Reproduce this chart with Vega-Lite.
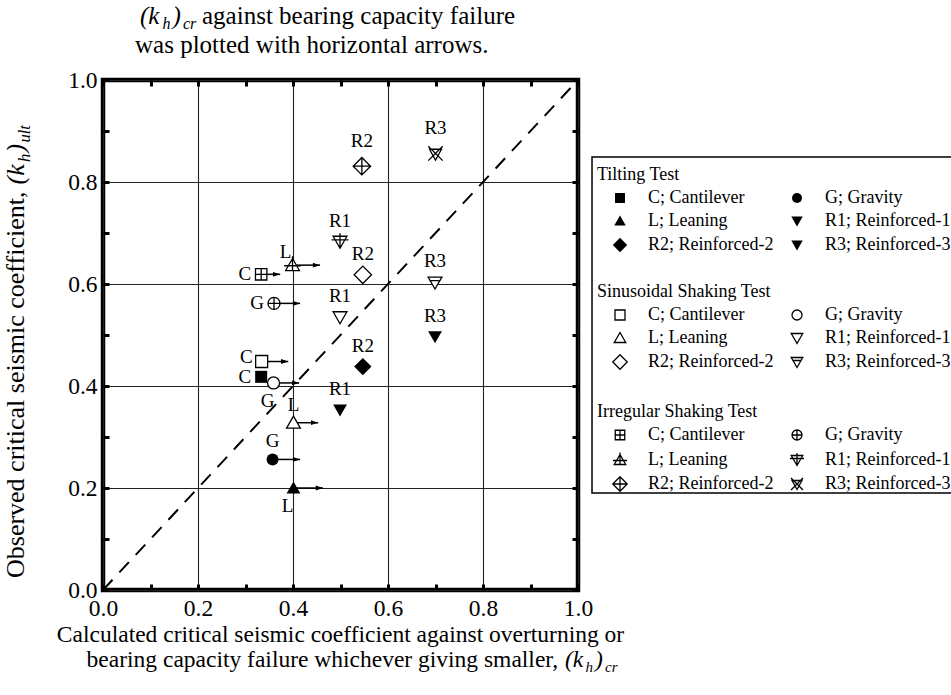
{
  "$schema": "https://vega.github.io/schema/vega-lite/v6.json",
  "width": 475,
  "height": 510,
  "autosize": {"type": "none"},
  "padding": {"left": 103, "top": 80, "right": 373, "bottom": 105},
  "background": "white",
  "config": {
    "font": "Liberation Serif",
    "view": {"stroke": "black", "strokeWidth": 4.5},
    "text": {"font": "Liberation Serif", "color": "black"},
    "legend": {
      "titleFont": "Liberation Serif",
      "titleFontSize": 18,
      "titleFontWeight": "normal",
      "titleColor": "black",
      "labelFont": "Liberation Serif",
      "labelFontSize": 18,
      "labelColor": "black",
      "symbolSize": 100,
      "symbolOffset": 14,
      "labelOffset": 19,
      "rowPadding": 5,
      "columnPadding": -6,
      "titlePadding": 5,
      "padding": 0,
      "labelLimit": 300,
      "titleLimit": 400,
      "symbolStrokeWidth": 1.3,
      "direction": "horizontal"
    }
  },
  "datasets": {
    "points": [
      {"test": "Tilting Test", "type": "C; Cantilever", "code": "C", "x": 0.333, "y": 0.418},
      {"test": "Tilting Test", "type": "G; Gravity", "code": "G", "x": 0.357, "y": 0.256},
      {"test": "Tilting Test", "type": "L; Leaning", "code": "L", "x": 0.401, "y": 0.2},
      {"test": "Tilting Test", "type": "R1; Reinforced-1", "code": "R1", "x": 0.499, "y": 0.353},
      {"test": "Tilting Test", "type": "R2; Reinforced-2", "code": "R2", "x": 0.547, "y": 0.438},
      {"test": "Tilting Test", "type": "R3; Reinforced-3", "code": "R3", "x": 0.699, "y": 0.497},
      {"test": "Sinusoidal Shaking Test", "type": "C; Cantilever", "code": "C", "x": 0.334, "y": 0.448},
      {"test": "Sinusoidal Shaking Test", "type": "G; Gravity", "code": "G", "x": 0.359, "y": 0.406},
      {"test": "Sinusoidal Shaking Test", "type": "L; Leaning", "code": "L", "x": 0.401, "y": 0.328},
      {"test": "Sinusoidal Shaking Test", "type": "R1; Reinforced-1", "code": "R1", "x": 0.499, "y": 0.535},
      {"test": "Sinusoidal Shaking Test", "type": "R2; Reinforced-2", "code": "R2", "x": 0.547, "y": 0.618},
      {"test": "Sinusoidal Shaking Test", "type": "R3; Reinforced-3", "code": "R3", "x": 0.699, "y": 0.603},
      {"test": "Irregular Shaking Test", "type": "C; Cantilever", "code": "C", "x": 0.333, "y": 0.619},
      {"test": "Irregular Shaking Test", "type": "G; Gravity", "code": "G", "x": 0.36, "y": 0.562},
      {"test": "Irregular Shaking Test", "type": "L; Leaning", "code": "L", "x": 0.399, "y": 0.637},
      {"test": "Irregular Shaking Test", "type": "R1; Reinforced-1", "code": "R1", "x": 0.499, "y": 0.683},
      {"test": "Irregular Shaking Test", "type": "R2; Reinforced-2", "code": "R2", "x": 0.545, "y": 0.831},
      {"test": "Irregular Shaking Test", "type": "R3; Reinforced-3", "code": "R3", "x": 0.7, "y": 0.856}
    ],
    "arrows": [
      {"x": 0.333, "x2": 0.373, "y": 0.619},
      {"x": 0.399, "x2": 0.457, "y": 0.637},
      {"x": 0.36, "x2": 0.415, "y": 0.562},
      {"x": 0.334, "x2": 0.39, "y": 0.448},
      {"x": 0.359, "x2": 0.413, "y": 0.406},
      {"x": 0.401, "x2": 0.453, "y": 0.328},
      {"x": 0.357, "x2": 0.415, "y": 0.256},
      {"x": 0.401, "x2": 0.463, "y": 0.2}
    ],
    "diagonal": [
      {"x": 0, "y": 0},
      {"x": 1, "y": 1}
    ]
  },
  "data": {"name": "points"},
  "layer": [
    {
      "data": {"name": "diagonal"},
      "mark": {"type": "line", "color": "black", "strokeWidth": 2, "strokeDash": [14, 10]},
      "encoding": {
        "x": {"field": "x", "type": "quantitative", "scale": {"domain": [0, 1], "nice": false},
          "axis": {"orient": "top", "values": [0, 0.1, 0.2, 0.3, 0.4, 0.5, 0.6, 0.7, 0.8, 0.9, 1],
            "labels": false, "grid": false, "domain": false, "ticks": true, "tickSize": -6, "tickWidth": 3, "tickColor": "black", "title": null}},
        "y": {"field": "y", "type": "quantitative", "scale": {"domain": [0, 1], "nice": false},
          "axis": {"orient": "right", "values": [0, 0.1, 0.2, 0.3, 0.4, 0.5, 0.6, 0.7, 0.8, 0.9, 1],
            "labels": false, "grid": false, "domain": false, "ticks": true, "tickSize": -6, "tickWidth": 3, "tickColor": "black", "title": null}}
      }
    },
    {
      "data": {"name": "arrows"},
      "mark": {"type": "rule", "color": "black", "strokeWidth": 1.5},
      "encoding": {
        "x": {"field": "x", "type": "quantitative", "scale": {"domain": [0, 1], "nice": false}, "axis": null},
        "x2": {"field": "x2"},
        "y": {"field": "y", "type": "quantitative", "scale": {"domain": [0, 1], "nice": false}, "axis": null}
      }
    },
    {
      "data": {"name": "arrows"},
      "mark": {"type": "point", "shape": "M0,0L-2.4,-0.8L-2.4,0.8Z", "filled": true, "color": "black", "size": 36, "opacity": 1},
      "encoding": {
        "x": {"field": "x2", "type": "quantitative", "scale": {"domain": [0, 1], "nice": false}, "axis": null},
        "y": {"field": "y", "type": "quantitative", "scale": {"domain": [0, 1], "nice": false}, "axis": null}
      }
    },
    {
      "transform": [{"filter": "datum.test == 'Tilting Test'"}],
      "mark": {"type": "point", "filled": true, "color": "black", "size": 144, "opacity": 1},
      "encoding": {
        "x": {"field": "x", "type": "quantitative", "scale": {"domain": [0, 1], "nice": false},
          "axis": {"orient": "bottom", "values": [0, 0.1, 0.2, 0.3, 0.4, 0.5, 0.6, 0.7, 0.8, 0.9, 1],
            "labelExpr": "round(datum.value * 10) % 2 == 0 ? format(datum.value, '.1f') : ''",
            "grid": true, "gridColor": "#222", "gridWidth": 1.1,
            "gridOpacity": {"condition": {"test": "round(datum.value * 10) % 2 == 1", "value": 0}, "value": 1},
            "domain": false, "ticks": true, "tickSize": -6, "tickWidth": 3, "tickColor": "black",
            "labelFont": "Liberation Serif", "labelFontSize": 23.5, "labelColor": "black", "labelPadding": 12,
            "labelFlush": false, "labelOverlap": false, "title": null}},
        "y": {"field": "y", "type": "quantitative", "scale": {"domain": [0, 1], "nice": false},
          "axis": {"orient": "left", "values": [0, 0.1, 0.2, 0.3, 0.4, 0.5, 0.6, 0.7, 0.8, 0.9, 1],
            "labelExpr": "round(datum.value * 10) % 2 == 0 ? format(datum.value, '.1f') : ''",
            "grid": true, "gridColor": "#222", "gridWidth": 1.1,
            "gridOpacity": {"condition": {"test": "round(datum.value * 10) % 2 == 1", "value": 0}, "value": 1},
            "domain": false, "ticks": true, "tickSize": -6, "tickWidth": 3, "tickColor": "black",
            "labelFont": "Liberation Serif", "labelFontSize": 23.5, "labelColor": "black", "labelPadding": 12,
            "labelFlush": false, "labelOverlap": false, "title": null}},
        "shape": {"field": "type", "type": "nominal",
          "scale": {
            "domain": ["C; Cantilever", "G; Gravity", "L; Leaning", "R1; Reinforced-1", "R2; Reinforced-2", "R3; Reinforced-3"],
            "range": ["square", "circle", "M0,-1.1L1.15,0.9L-1.15,0.9Z", "M-1.15,-0.9L1.15,-0.9L0,1.1Z", "M0,-1.45L1.45,0L0,1.45L-1.45,0Z", "M-1.15,-0.9L1.15,-0.9L0,1.1Z"]
          },
          "legend": {"title": "Tilting Test", "orient": "none", "legendX": 494, "legendY": 86, "columns": 2, "direction": "horizontal"}}
      }
    },
    {
      "transform": [{"filter": "datum.test == 'Sinusoidal Shaking Test'"}],
      "mark": {"type": "point", "filled": true, "color": "white", "size": 144, "opacity": 1},
      "encoding": {
        "x": {"field": "x", "type": "quantitative", "scale": {"domain": [0, 1], "nice": false}, "axis": null},
        "y": {"field": "y", "type": "quantitative", "scale": {"domain": [0, 1], "nice": false}, "axis": null},
        "shape": {"field": "type", "type": "nominal",
          "scale": {
            "domain": ["C; Cantilever", "G; Gravity", "L; Leaning", "R1; Reinforced-1", "R2; Reinforced-2", "R3; Reinforced-3"],
            "range": ["square", "circle", "M0,-1.1L1.15,0.9L-1.15,0.9Z", "M-1.15,-0.9L1.15,-0.9L0,1.1Z", "M0,-1.45L1.45,0L0,1.45L-1.45,0Z", "M-1.15,-0.9L1.15,-0.9L0,1.1Z"]
          },
          "legend": null}
      }
    },
    {
      "transform": [{"filter": "datum.test == 'Irregular Shaking Test'"}],
      "mark": {"type": "point", "filled": true, "color": "white", "size": 144, "opacity": 1},
      "encoding": {
        "x": {"field": "x", "type": "quantitative", "scale": {"domain": [0, 1], "nice": false}, "axis": null},
        "y": {"field": "y", "type": "quantitative", "scale": {"domain": [0, 1], "nice": false}, "axis": null},
        "shape": {"field": "type", "type": "nominal",
          "scale": {
            "domain": ["C; Cantilever", "G; Gravity", "L; Leaning", "R1; Reinforced-1", "R2; Reinforced-2", "R3; Reinforced-3"],
            "range": ["square", "circle", "M0,-1.1L1.15,0.9L-1.15,0.9Z", "M-1.15,-0.9L1.15,-0.9L0,1.1Z", "M0,-1.45L1.45,0L0,1.45L-1.45,0Z", "M-1,-0.7L1,-0.7L0,1.1Z"]
          },
          "legend": null}
      }
    },
    {
      "transform": [{"filter": "datum.test == 'Sinusoidal Shaking Test'"}],
      "mark": {"type": "point", "filled": false, "color": "black", "strokeWidth": 1.3, "size": 144, "opacity": 1},
      "encoding": {
        "x": {"field": "x", "type": "quantitative", "scale": {"domain": [0, 1], "nice": false}, "axis": null},
        "y": {"field": "y", "type": "quantitative", "scale": {"domain": [0, 1], "nice": false}, "axis": null},
        "shape": {"field": "type", "type": "nominal",
          "scale": {
            "domain": ["C; Cantilever", "G; Gravity", "L; Leaning", "R1; Reinforced-1", "R2; Reinforced-2", "R3; Reinforced-3"],
            "range": ["square", "circle", "M0,-1.1L1.15,0.9L-1.15,0.9Z", "M-1.15,-0.9L1.15,-0.9L0,1.1Z", "M0,-1.45L1.45,0L0,1.45L-1.45,0Z", "M-1.15,-0.9L1.15,-0.9L0,1.1Z M-0.8,-0.3H0.8"]
          },
          "legend": {"title": "Sinusoidal Shaking Test", "orient": "none", "legendX": 494, "legendY": 203, "columns": 2, "direction": "horizontal"}}
      }
    },
    {
      "transform": [{"filter": "datum.test == 'Irregular Shaking Test'"}],
      "mark": {"type": "point", "filled": false, "color": "black", "strokeWidth": 1.3, "size": 144, "opacity": 1},
      "encoding": {
        "x": {"field": "x", "type": "quantitative", "scale": {"domain": [0, 1], "nice": false}, "axis": null},
        "y": {"field": "y", "type": "quantitative", "scale": {"domain": [0, 1], "nice": false}, "axis": null},
        "shape": {"field": "type", "type": "nominal",
          "scale": {
            "domain": ["C; Cantilever", "G; Gravity", "L; Leaning", "R1; Reinforced-1", "R2; Reinforced-2", "R3; Reinforced-3"],
            "range": [
              "M-0.95,-0.95H0.95V0.95H-0.95Z M0,-0.95V0.95 M-0.95,0H0.95",
              "M-1,0A1,1,0,1,1,1,0A1,1,0,1,1,-1,0Z M0,-1V1 M-1,0H1",
              "M0,-1.1L1.15,0.9L-1.15,0.9Z M0,-1.5V0.9 M-1.4,0.1H1.4",
              "M-1.15,-0.9L1.15,-0.9L0,1.1Z M0,-1.4V1.1 M-1.4,-0.3H1.4",
              "M0,-1.45L1.45,0L0,1.45L-1.45,0Z M0,-1.45V1.45 M-1.45,0H1.45",
              "M-1.2,-1.2L1.2,1.2 M1.2,-1.2L-1.2,1.2 M-1,-0.7L1,-0.7L0,1.1Z"
            ]
          },
          "legend": {"title": "Irregular Shaking Test", "orient": "none", "legendX": 494, "legendY": 323, "columns": 2, "direction": "horizontal"}}
      }
    },
    {
      "transform": [{"filter": "(datum.code == 'C' && datum.test != 'Sinusoidal Shaking Test') || (datum.code == 'G' && datum.test == 'Irregular Shaking Test')"}],
      "mark": {"type": "text", "fontSize": 19, "align": "right", "baseline": "middle", "dx": -10},
      "encoding": {
        "x": {"field": "x", "type": "quantitative", "scale": {"domain": [0, 1], "nice": false}, "axis": null},
        "y": {"field": "y", "type": "quantitative", "scale": {"domain": [0, 1], "nice": false}, "axis": null},
        "text": {"field": "code"}
      }
    },
    {
      "transform": [{"filter": "datum.code == 'C' && datum.test == 'Sinusoidal Shaking Test'"}],
      "mark": {"type": "text", "fontSize": 19, "align": "right", "baseline": "middle", "dx": -9, "dy": -5},
      "encoding": {
        "x": {"field": "x", "type": "quantitative", "scale": {"domain": [0, 1], "nice": false}, "axis": null},
        "y": {"field": "y", "type": "quantitative", "scale": {"domain": [0, 1], "nice": false}, "axis": null},
        "text": {"field": "code"}
      }
    },
    {
      "transform": [{"filter": "(indexof(['R1', 'R2', 'R3'], datum.code) >= 0 && datum.test != 'Irregular Shaking Test') || (datum.code == 'R1' && datum.test == 'Irregular Shaking Test')"}],
      "mark": {"type": "text", "fontSize": 19, "align": "center", "baseline": "middle", "dy": -21},
      "encoding": {
        "x": {"field": "x", "type": "quantitative", "scale": {"domain": [0, 1], "nice": false}, "axis": null},
        "y": {"field": "y", "type": "quantitative", "scale": {"domain": [0, 1], "nice": false}, "axis": null},
        "text": {"field": "code"}
      }
    },
    {
      "transform": [{"filter": "(datum.code == 'R2' || datum.code == 'R3') && datum.test == 'Irregular Shaking Test'"}],
      "mark": {"type": "text", "fontSize": 19, "align": "center", "baseline": "middle", "dy": -25},
      "encoding": {
        "x": {"field": "x", "type": "quantitative", "scale": {"domain": [0, 1], "nice": false}, "axis": null},
        "y": {"field": "y", "type": "quantitative", "scale": {"domain": [0, 1], "nice": false}, "axis": null},
        "text": {"field": "code"}
      }
    },
    {
      "transform": [{"filter": "(datum.code == 'G' && datum.test == 'Tilting Test') || (datum.code == 'L' && datum.test == 'Sinusoidal Shaking Test')"}],
      "mark": {"type": "text", "fontSize": 19, "align": "center", "baseline": "middle", "dy": -18},
      "encoding": {
        "x": {"field": "x", "type": "quantitative", "scale": {"domain": [0, 1], "nice": false}, "axis": null},
        "y": {"field": "y", "type": "quantitative", "scale": {"domain": [0, 1], "nice": false}, "axis": null},
        "text": {"field": "code"}
      }
    },
    {
      "transform": [{"filter": "datum.code == 'L' && datum.test == 'Irregular Shaking Test'"}],
      "mark": {"type": "text", "fontSize": 19, "align": "center", "baseline": "middle", "dx": -7, "dy": -13},
      "encoding": {
        "x": {"field": "x", "type": "quantitative", "scale": {"domain": [0, 1], "nice": false}, "axis": null},
        "y": {"field": "y", "type": "quantitative", "scale": {"domain": [0, 1], "nice": false}, "axis": null},
        "text": {"field": "code"}
      }
    },
    {
      "transform": [{"filter": "(datum.code == 'L' && datum.test == 'Tilting Test') || (datum.code == 'G' && datum.test == 'Sinusoidal Shaking Test')"}],
      "mark": {"type": "text", "fontSize": 19, "align": "center", "baseline": "middle", "dx": -6, "dy": 18},
      "encoding": {
        "x": {"field": "x", "type": "quantitative", "scale": {"domain": [0, 1], "nice": false}, "axis": null},
        "y": {"field": "y", "type": "quantitative", "scale": {"domain": [0, 1], "nice": false}, "axis": null},
        "text": {"field": "code"}
      }
    },
    {
      "data": {"values": [{}]},
      "mark": {"type": "rect", "fillOpacity": 0, "stroke": "black", "strokeWidth": 1.5},
      "encoding": {
        "x": {"datum": 1.0295, "scale": {"domain": [0, 1], "nice": false}, "axis": null},
        "x2": {"datum": 1.9},
        "y": {"datum": 0.849, "scale": {"domain": [0, 1], "nice": false}, "axis": null},
        "y2": {"datum": 0.19}
      }
    },
    {
      "data": {"values": [{}]},
      "mark": {"type": "text", "text": "(k", "fontSize": 25, "fontStyle": "italic", "align": "left", "baseline": "alphabetic", "dx": 5},
      "encoding": {
        "x": {"datum": 0.0674, "scale": {"domain": [0, 1], "nice": false}, "axis": null},
        "y": {"datum": 1.1098, "scale": {"domain": [0, 1], "nice": false}, "axis": null}
      }
    },
    {
      "data": {"values": [{}]},
      "mark": {"type": "text", "text": "h", "fontSize": 16, "fontStyle": "italic", "align": "left", "baseline": "alphabetic", "dx": 27.5, "dy": 5},
      "encoding": {
        "x": {"datum": 0.0674, "scale": {"domain": [0, 1], "nice": false}, "axis": null},
        "y": {"datum": 1.1098, "scale": {"domain": [0, 1], "nice": false}, "axis": null}
      }
    },
    {
      "data": {"values": [{}]},
      "mark": {"type": "text", "text": ")", "fontSize": 25, "fontStyle": "italic", "align": "left", "baseline": "alphabetic", "dx": 37.5},
      "encoding": {
        "x": {"datum": 0.0674, "scale": {"domain": [0, 1], "nice": false}, "axis": null},
        "y": {"datum": 1.1098, "scale": {"domain": [0, 1], "nice": false}, "axis": null}
      }
    },
    {
      "data": {"values": [{}]},
      "mark": {"type": "text", "text": "cr", "fontSize": 16, "fontStyle": "italic", "align": "left", "baseline": "alphabetic", "dx": 48, "dy": 5},
      "encoding": {
        "x": {"datum": 0.0674, "scale": {"domain": [0, 1], "nice": false}, "axis": null},
        "y": {"datum": 1.1098, "scale": {"domain": [0, 1], "nice": false}, "axis": null}
      }
    },
    {
      "data": {"values": [{}]},
      "mark": {"type": "text", "text": "against bearing capacity failure", "fontSize": 25, "align": "left", "baseline": "alphabetic", "dx": 67},
      "encoding": {
        "x": {"datum": 0.0674, "scale": {"domain": [0, 1], "nice": false}, "axis": null},
        "y": {"datum": 1.1098, "scale": {"domain": [0, 1], "nice": false}, "axis": null}
      }
    },
    {
      "data": {"values": [{}]},
      "mark": {"type": "text", "text": "was plotted with horizontal arrows.", "fontSize": 25, "align": "left", "baseline": "alphabetic"},
      "encoding": {
        "x": {"datum": 0.0674, "scale": {"domain": [0, 1], "nice": false}, "axis": null},
        "y": {"datum": 1.0529, "scale": {"domain": [0, 1], "nice": false}, "axis": null}
      }
    },
    {
      "data": {"values": [{}]},
      "mark": {"type": "text", "text": "Calculated critical seismic coefficient against overturning or", "fontSize": 23.5, "align": "center", "baseline": "alphabetic"},
      "encoding": {
        "x": {"datum": 0.5, "scale": {"domain": [0, 1], "nice": false}, "axis": null},
        "y": {"datum": -0.102, "scale": {"domain": [0, 1], "nice": false}, "axis": null}
      }
    },
    {
      "data": {"values": [{}]},
      "mark": {"type": "text", "text": "bearing capacity failure whichever giving smaller,", "fontSize": 23.5, "align": "left", "baseline": "alphabetic"},
      "encoding": {
        "x": {"datum": -0.0345, "scale": {"domain": [0, 1], "nice": false}, "axis": null},
        "y": {"datum": -0.151, "scale": {"domain": [0, 1], "nice": false}, "axis": null}
      }
    },
    {
      "data": {"values": [{}]},
      "mark": {"type": "text", "text": "(k", "fontSize": 23.5, "fontStyle": "italic", "align": "left", "baseline": "alphabetic", "dx": 478.4},
      "encoding": {
        "x": {"datum": -0.0345, "scale": {"domain": [0, 1], "nice": false}, "axis": null},
        "y": {"datum": -0.151, "scale": {"domain": [0, 1], "nice": false}, "axis": null}
      }
    },
    {
      "data": {"values": [{}]},
      "mark": {"type": "text", "text": "h", "fontSize": 15, "fontStyle": "italic", "align": "left", "baseline": "alphabetic", "dx": 499, "dy": 5},
      "encoding": {
        "x": {"datum": -0.0345, "scale": {"domain": [0, 1], "nice": false}, "axis": null},
        "y": {"datum": -0.151, "scale": {"domain": [0, 1], "nice": false}, "axis": null}
      }
    },
    {
      "data": {"values": [{}]},
      "mark": {"type": "text", "text": ")", "fontSize": 23.5, "fontStyle": "italic", "align": "left", "baseline": "alphabetic", "dx": 508.5},
      "encoding": {
        "x": {"datum": -0.0345, "scale": {"domain": [0, 1], "nice": false}, "axis": null},
        "y": {"datum": -0.151, "scale": {"domain": [0, 1], "nice": false}, "axis": null}
      }
    },
    {
      "data": {"values": [{}]},
      "mark": {"type": "text", "text": "cr", "fontSize": 15, "fontStyle": "italic", "align": "left", "baseline": "alphabetic", "dx": 518.5, "dy": 5},
      "encoding": {
        "x": {"datum": -0.0345, "scale": {"domain": [0, 1], "nice": false}, "axis": null},
        "y": {"datum": -0.151, "scale": {"domain": [0, 1], "nice": false}, "axis": null}
      }
    },
    {
      "data": {"values": [{}]},
      "mark": {"type": "text", "text": "Observed critical seismic coefficient,", "fontSize": 26, "angle": 270, "align": "left", "baseline": "alphabetic"},
      "encoding": {
        "x": {"datum": -0.1663, "scale": {"domain": [0, 1], "nice": false}, "axis": null},
        "y": {"datum": 0.0235, "scale": {"domain": [0, 1], "nice": false}, "axis": null}
      }
    },
    {
      "data": {"values": [{}]},
      "mark": {"type": "text", "text": "(k", "fontSize": 26, "fontStyle": "italic", "angle": 270, "align": "left", "baseline": "alphabetic", "dx": 393.5},
      "encoding": {
        "x": {"datum": -0.1663, "scale": {"domain": [0, 1], "nice": false}, "axis": null},
        "y": {"datum": 0.0235, "scale": {"domain": [0, 1], "nice": false}, "axis": null}
      }
    },
    {
      "data": {"values": [{}]},
      "mark": {"type": "text", "text": "h", "fontSize": 16.5, "fontStyle": "italic", "angle": 270, "align": "left", "baseline": "alphabetic", "dx": 416, "dy": 5.5},
      "encoding": {
        "x": {"datum": -0.1663, "scale": {"domain": [0, 1], "nice": false}, "axis": null},
        "y": {"datum": 0.0235, "scale": {"domain": [0, 1], "nice": false}, "axis": null}
      }
    },
    {
      "data": {"values": [{}]},
      "mark": {"type": "text", "text": ")", "fontSize": 26, "fontStyle": "italic", "angle": 270, "align": "left", "baseline": "alphabetic", "dx": 425.5},
      "encoding": {
        "x": {"datum": -0.1663, "scale": {"domain": [0, 1], "nice": false}, "axis": null},
        "y": {"datum": 0.0235, "scale": {"domain": [0, 1], "nice": false}, "axis": null}
      }
    },
    {
      "data": {"values": [{}]},
      "mark": {"type": "text", "text": "ult", "fontSize": 16.5, "fontStyle": "italic", "angle": 270, "align": "left", "baseline": "alphabetic", "dx": 435.5, "dy": 5.5},
      "encoding": {
        "x": {"datum": -0.1663, "scale": {"domain": [0, 1], "nice": false}, "axis": null},
        "y": {"datum": 0.0235, "scale": {"domain": [0, 1], "nice": false}, "axis": null}
      }
    }
  ],
  "resolve": {
    "scale": {"shape": "independent"},
    "legend": {"shape": "independent"},
    "axis": {"x": "independent", "y": "independent"}
  }
}
